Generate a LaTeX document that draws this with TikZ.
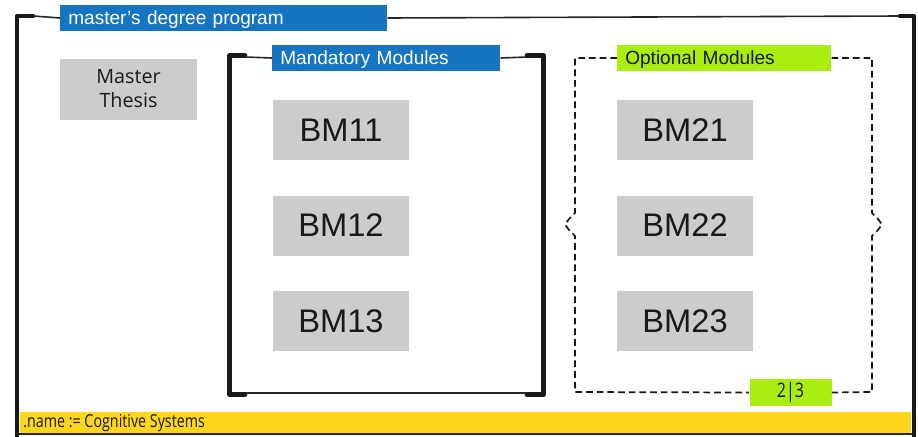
\documentclass[tikz,border=0pt]{standalone}
\usepackage{fontspec}
\setmainfont{Liberation Sans}
\newfontfamily\thesisfont{Open Sans}
\newfontfamily\condfont[FakeStretch=0.8]{Open Sans}
\usepackage{xcolor}
\usepackage{tikz}
\usetikzlibrary{positioning,calc}
\definecolor{hdrblue}{RGB}{22,116,192}
\definecolor{hdrgreen}{RGB}{170,238,17}
\definecolor{namegold}{RGB}{255,214,30}
\definecolor{boxgray}{RGB}{204,204,204}
\tikzset{
  modbox/.style={fill=boxgray,minimum width=102pt,minimum height=45pt,inner sep=0pt,
    font=\fontsize{24.5}{28}\selectfont,text=black!90},
  headblue/.style={fill=hdrblue,text=white,anchor=west,minimum height=19.5pt,inner sep=0pt,
    text depth=0pt,font=\fontsize{14.3}{16}\selectfont},
  headgreen/.style={headblue,fill=hdrgreen,text=black!90},
  framethick/.style={line width=3.5pt,line join=round,line cap=round,black!90},
  framethin/.style={line width=1.2pt,black!85},
  framedash/.style={line width=1.3pt,black!90,dash pattern=on 5pt off 3pt}
}

\begin{document}
\begin{tikzpicture}[x=0.75pt,y=-0.75pt]
  \useasboundingbox (0,0) rectangle (918,436);
  % outer frame
  \node[headblue,minimum width=245.25pt,text width=233.25pt,align=left] (prog) at (60,18) {master’s degree program};
  \coordinate (otl) at (17,16);
  \coordinate (otr) at (914,16);
  \draw[framethick] (17,440) -- (otl) -- (33,16);
  \draw[framethin] (33,16) -- (prog.west);
  \draw[framethin] (prog.east) -- (900,16);
  \draw[framethick] (900,16) -- (otr) -- (914,440);
  \draw[framethin] (17,434) -- (914,434);
  \node[fill=namegold,anchor=north west,minimum width=668.25pt,minimum height=15.75pt,inner sep=0pt] (namebar) at (20,412) {};
  \node[anchor=west,font=\condfont\fontsize{13.4}{15}\selectfont,text=black!90,inner sep=0pt] (name) at (23,423) {.name := Cognitive Systems};
  % thesis
  \node[fill=boxgray,minimum width=102.75pt,minimum height=45.75pt,inner sep=0pt,align=center,
    font=\thesisfont\fontsize{14.8}{18}\selectfont,text=black!90] (thesis) at (128.5,89) {Master\\Thesis};
  % mandatory modules
  \node[headblue,minimum width=171pt,text width=159pt,align=left] (mand) at (272,58) {Mandatory Modules};
  \draw[framethick] (245,55.5) -- (229.5,55.5) -- (229.5,394.5) -- (245,394.5);
  \draw[framethin] (245,57) -- (mand.west);
  \draw[framethin] (mand.east) -- (527,57);
  \draw[framethick] (527,55.5) -- (543.5,55.5) -- (543.5,394.5) -- (527,394.5);
  \draw[framethin] (245,393) -- (527,393);
  \node[modbox] (bm11) at (341,130) {BM11};
  \node[modbox] (bm12) at (341,225.5) {BM12};
  \node[modbox] (bm13) at (341,321) {BM13};
  % optional modules
  \node[headgreen,minimum width=160.5pt,text width=148.5pt,align=left] (opt) at (617,58) {Optional Modules};
  \node[fill=hdrgreen,minimum width=61.5pt,minimum height=20.25pt,inner sep=0pt,
    font=\condfont\fontsize{15}{17}\selectfont,text=black!90] (ratio) at (790.5,392.5) {2|3};
  \draw[framedash] (opt.west) -- (575,58) -- (575,213) -- (569,219) -- (565,224.5)
    -- (569,230) -- (575,236) -- (575,392) -- (ratio.west);
  \draw[framedash] (opt.east) -- (872,58) -- (872,213) -- (878,219) -- (882,224.5)
    -- (878,230) -- (872,236) -- (872,392) -- (ratio.east);
  \node[modbox] (bm21) at (685,130) {BM21};
  \node[modbox] (bm22) at (685,225.5) {BM22};
  \node[modbox] (bm23) at (685,321) {BM23};
\end{tikzpicture}
\end{document}
